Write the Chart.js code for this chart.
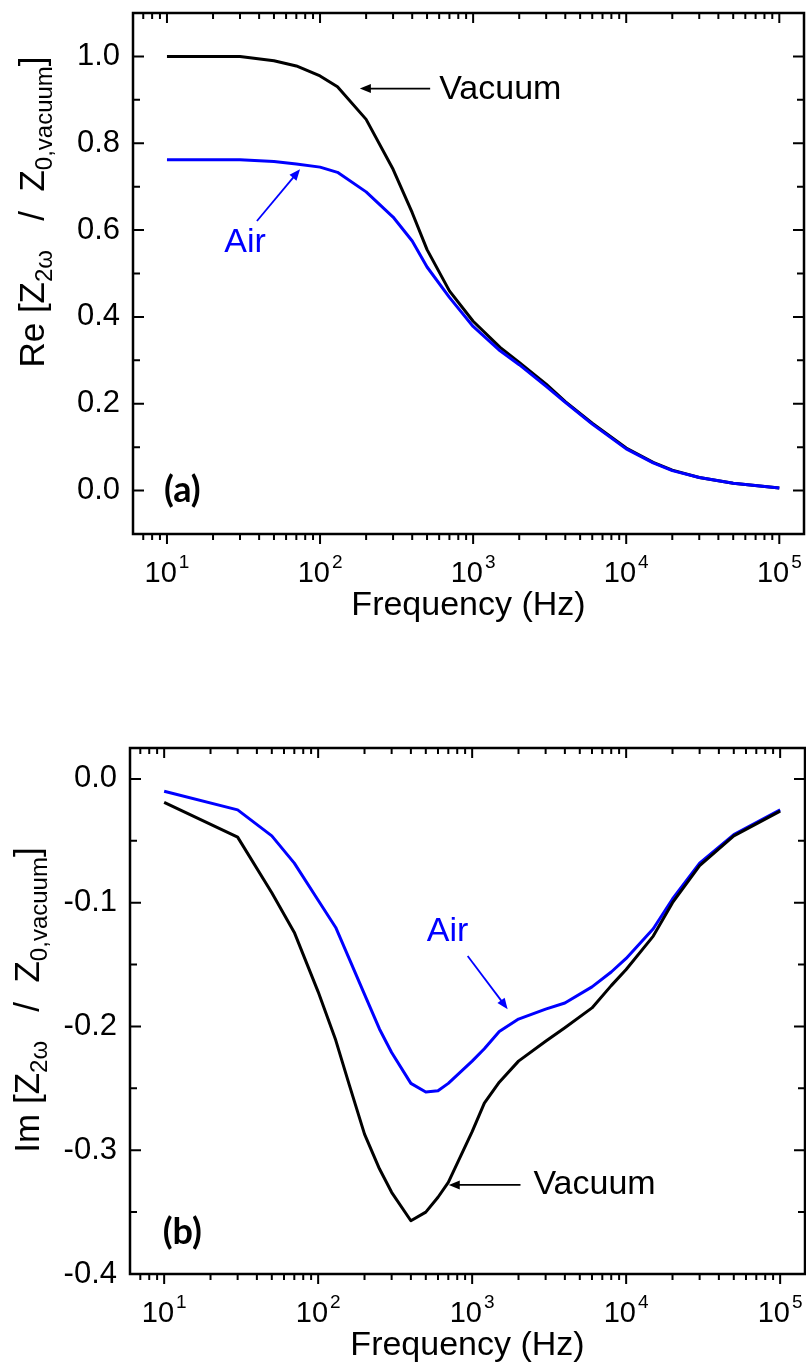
<!DOCTYPE html>
<html>
<head>
<meta charset="utf-8">
<script src="https://cdn.jsdelivr.net/npm/chart.js@4.4.1/dist/chart.umd.min.js"></script>
<style>
  html, body { margin: 0; padding: 0; background: #fff; }
  #wrap { position: relative; width: 806px; height: 1366px; }
  canvas { position: absolute; left: 0; }
  #chartA { top: 0; }
  #chartB { top: 683px; }
</style>
</head>
<body>
<div id="wrap">
  <canvas id="chartA" width="806" height="683"></canvas>
  <canvas id="chartB" width="806" height="683"></canvas>
</div>
<script>
// Datos
const freqRe = [10, 30, 50, 70, 100, 130, 200, 300, 400, 500, 700, 1000, 1500, 2000, 3000, 4000, 6000, 10000, 15000, 20000, 30000, 50000, 100000];
const reVacuum = [1.000, 1.000, 0.990, 0.978, 0.955, 0.930, 0.855, 0.740, 0.640, 0.555, 0.460, 0.390, 0.330, 0.295, 0.245, 0.205, 0.155, 0.098, 0.065, 0.047, 0.030, 0.017, 0.006];
const reAir = [0.762, 0.762, 0.758, 0.752, 0.745, 0.733, 0.688, 0.630, 0.575, 0.515, 0.445, 0.378, 0.322, 0.290, 0.240, 0.203, 0.153, 0.096, 0.064, 0.046, 0.030, 0.017, 0.006];

const freqIm = [10, 30, 50, 70, 100, 130, 160, 200, 250, 300, 400, 500, 600, 700, 1000, 1200, 1500, 2000, 3000, 4000, 6000, 8000, 10000, 15000, 20000, 30000, 50000, 100000];
const imVacuum = [-0.019, -0.047, -0.092, -0.124, -0.172, -0.211, -0.248, -0.287, -0.315, -0.334, -0.357, -0.350, -0.338, -0.326, -0.285, -0.262, -0.245, -0.228, -0.212, -0.201, -0.185, -0.167, -0.154, -0.127, -0.100, -0.070, -0.046, -0.026];
const imAir = [-0.010, -0.025, -0.046, -0.068, -0.098, -0.120, -0.146, -0.174, -0.202, -0.221, -0.246, -0.253, -0.252, -0.246, -0.228, -0.218, -0.204, -0.194, -0.186, -0.181, -0.168, -0.156, -0.145, -0.121, -0.097, -0.068, -0.045, -0.025];

const xMajor = [10, 100, 1000, 10000, 100000];
const reTicks = [0, 0.2, 0.4, 0.6, 0.8, 1.0];
const reMinor = [0.1, 0.3, 0.5, 0.7, 0.9];
const imTicks = [0, -0.1, -0.2, -0.3, -0.4];
const imMinor = [-0.05, -0.15, -0.25, -0.35];

const FONT = "'Liberation Sans', Arial, sans-serif";
const BLUE = '#0000ff';

const toPoints = (xs, ys) => xs.map((x, i) => ({ x: x, y: ys[i] }));

function drawPow(ctx, x, base, exp) {
    ctx.font = '29px ' + FONT;
    const w1 = ctx.measureText('10').width;
    ctx.font = '19px ' + FONT;
    const w2 = ctx.measureText(exp).width;
    const left = x - (w1 + 2 + w2) / 2;
    ctx.font = '29px ' + FONT;
    ctx.fillText('10', left, base);
    ctx.font = '19px ' + FONT;
    ctx.fillText(exp, left + w1 + 2, base - 14);
}

function drawArrow(ctx, x1, y1, x2, y2, color) {
    const ang = Math.atan2(y2 - y1, x2 - x1);
    const len = 11, hw = 4.5;
    ctx.strokeStyle = color;
    ctx.fillStyle = color;
    ctx.lineWidth = 1.8;
    ctx.beginPath();
    ctx.moveTo(x1, y1);
    ctx.lineTo(x2 - Math.cos(ang) * len * 0.8, y2 - Math.sin(ang) * len * 0.8);
    ctx.stroke();
    ctx.beginPath();
    ctx.moveTo(x2, y2);
    ctx.lineTo(x2 - Math.cos(ang) * len - Math.sin(ang) * hw, y2 - Math.sin(ang) * len + Math.cos(ang) * hw);
    ctx.lineTo(x2 - Math.cos(ang) * len + Math.sin(ang) * hw, y2 - Math.sin(ang) * len - Math.cos(ang) * hw);
    ctx.closePath();
    ctx.fill();
}

// Plugin de marco, marcas, títulos y anotaciones
function makeDecor(cfg) {
    return {
        id: 'decor',
        afterDraw(chart) {
            const { ctx, chartArea: a } = chart;
            const sx = chart.scales.x, sy = chart.scales.y;
            ctx.save();

            // marco
            ctx.strokeStyle = '#000';
            ctx.lineWidth = 2.5;
            ctx.strokeRect(a.left, a.top, a.right - a.left, a.bottom - a.top);

            // marcas
            ctx.lineWidth = 2;
            ctx.beginPath();
            const xMinor = [];
            for (let d = 1; d <= 100000; d *= 10) {
                for (let k = 2; k <= 9; k++) xMinor.push(k * d);
            }
            const xt = (v, len) => {
                if (v <= sx.min || v >= sx.max) return;
                const px = sx.getPixelForValue(v);
                ctx.moveTo(px, a.bottom); ctx.lineTo(px, a.bottom + len);
                ctx.moveTo(px, a.top); ctx.lineTo(px, a.top + len);
            };
            xMajor.forEach(v => xt(v, 10));
            xMinor.forEach(v => xt(v, 6));
            const yt = (v, len) => {
                if (v <= sy.min || v >= sy.max) return;
                const py = sy.getPixelForValue(v);
                ctx.moveTo(a.left, py); ctx.lineTo(a.left + len, py);
                ctx.moveTo(a.right, py); ctx.lineTo(a.right - len, py);
            };
            cfg.yMajor.forEach(v => yt(v, 11));
            cfg.yMinor.forEach(v => yt(v, 7));
            ctx.stroke();

            // etiquetas del eje x
            ctx.fillStyle = '#000';
            ctx.textAlign = 'left';
            ctx.textBaseline = 'alphabetic';
            xMajor.forEach(v => {
                drawPow(ctx, sx.getPixelForValue(v), a.bottom + 48, String(Math.round(Math.log10(v))));
            });

            // título del eje x
            ctx.font = '34px ' + FONT;
            ctx.textAlign = 'center';
            ctx.fillText('Frequency (Hz)', (a.left + a.right) / 2, a.bottom + 81);

            // título del eje y
            ctx.save();
            ctx.textAlign = 'left';
            let total = 0;
            cfg.yTitle.forEach(p => {
                ctx.font = p.size + 'px ' + FONT;
                total += ctx.measureText(p.text).width;
            });
            ctx.translate(cfg.yTitleX, cfg.yTitleY + total / 2);
            ctx.rotate(-Math.PI / 2);
            let pos = 0;
            cfg.yTitle.forEach(p => {
                ctx.font = p.size + 'px ' + FONT;
                ctx.fillText(p.text, pos, p.dy || 0);
                pos += ctx.measureText(p.text).width;
            });
            ctx.restore();

            // anotaciones
            cfg.arrows.forEach(ar => {
                drawArrow(ctx,
                    sx.getPixelForValue(ar.from[0]), sy.getPixelForValue(ar.from[1]),
                    sx.getPixelForValue(ar.to[0]), sy.getPixelForValue(ar.to[1]), ar.color);
            });
            cfg.notes.forEach(n => {
                ctx.font = n.font;
                ctx.fillStyle = n.color;
                ctx.textAlign = n.align;
                ctx.textBaseline = 'middle';
                ctx.fillText(n.text, sx.getPixelForValue(n.at[0]), sy.getPixelForValue(n.at[1]));
            });

            ctx.restore();
        }
    };
}

function makeChart(id, c) {
    return new Chart(document.getElementById(id), {
        type: 'line',
        data: { datasets: c.datasets },
        options: {
            responsive: false,
            animation: false,
            events: [],
            layout: { padding: { top: c.padTop, right: c.padRight, left: 0, bottom: 0 } },
            plugins: { legend: { display: false }, tooltip: { enabled: false } },
            elements: { point: { radius: 0 }, line: { tension: 0, borderWidth: 3, borderJoinStyle: 'round' } },
            scales: {
                x: {
                    type: 'logarithmic',
                    min: 6,
                    max: 145000,
                    ticks: { display: false },
                    grid: { display: false, drawTicks: false },
                    border: { display: false },
                    afterFit: s => { s.height = c.xHeight; s.paddingLeft = 0; s.paddingRight = 0; }
                },
                y: {
                    type: 'linear',
                    min: c.yMin,
                    max: c.yMax,
                    afterBuildTicks: s => { s.ticks = c.yMajor.map(v => ({ value: v })); },
                    ticks: {
                        autoSkip: false,
                        padding: 13,
                        color: '#000',
                        font: { family: FONT, size: 31 },
                        callback: v => Number(v).toFixed(1)
                    },
                    grid: { display: false, drawTicks: false },
                    border: { display: false },
                    afterFit: s => { s.width = c.yWidth; s.paddingTop = 0; s.paddingBottom = 0; }
                }
            }
        },
        plugins: [makeDecor(c)]
    });
}

const titleParts = (head) => [
    { text: head + ' [Z', size: 35 },
    { text: '2ω', size: 24, dy: 8 },
    { text: '   /  Z', size: 35 },
    { text: '0,vacuum', size: 24, dy: 8 },
    { text: ']', size: 35 }
];

// (a) parte real
makeChart('chartA', {
    datasets: [
        { label: 'Air', data: toPoints(freqRe, reAir), borderColor: BLUE },
        { label: 'Vacuum', data: toPoints(freqRe, reVacuum), borderColor: '#000' }
    ],
    padTop: 13, padRight: 2, xHeight: 149, yWidth: 133,
    yMin: -0.1, yMax: 1.1, yMajor: reTicks, yMinor: reMinor,
    yTitleX: 44, yTitleY: 212,
    yTitle: titleParts('Re'),
    arrows: [
        { from: [524, 0.926], to: [182, 0.926], color: '#000' },
        { from: [38.7, 0.621], to: [74, 0.740], color: BLUE }
    ],
    notes: [
        { text: 'Vacuum', at: [600, 0.924], color: '#000', align: 'left', font: '34px ' + FONT },
        { text: 'Air', at: [32.4, 0.572], color: BLUE, align: 'center', font: '34px ' + FONT },
        { text: '(a)', at: [12.6, 0.0], color: '#000', align: 'center', font: 'bold 36px Lato, ' + FONT }
    ]
});

// (b) parte imaginaria
makeChart('chartB', {
    datasets: [
        { label: 'Vacuum', data: toPoints(freqIm, imVacuum), borderColor: '#000' },
        { label: 'Air', data: toPoints(freqIm, imAir), borderColor: BLUE }
    ],
    padTop: 65, padRight: 1, xHeight: 92, yWidth: 130,
    yMin: -0.4, yMax: 0.025, yMajor: imTicks, yMinor: imMinor,
    yTitleX: 39, yTitleY: 1000 - 683,
    yTitle: titleParts('Im'),
    arrows: [
        { from: [935, -0.143], to: [1700, -0.186], color: BLUE },
        { from: [2060, -0.328], to: [705, -0.328], color: '#000' }
    ],
    notes: [
        { text: 'Air', at: [693, -0.123], color: BLUE, align: 'center', font: '34px ' + FONT },
        { text: 'Vacuum', at: [2500, -0.328], color: '#000', align: 'left', font: '34px ' + FONT },
        { text: '(b)', at: [13.1, -0.366], color: '#000', align: 'center', font: 'bold 36px Lato, ' + FONT }
    ]
});
</script>
</body>
</html>
